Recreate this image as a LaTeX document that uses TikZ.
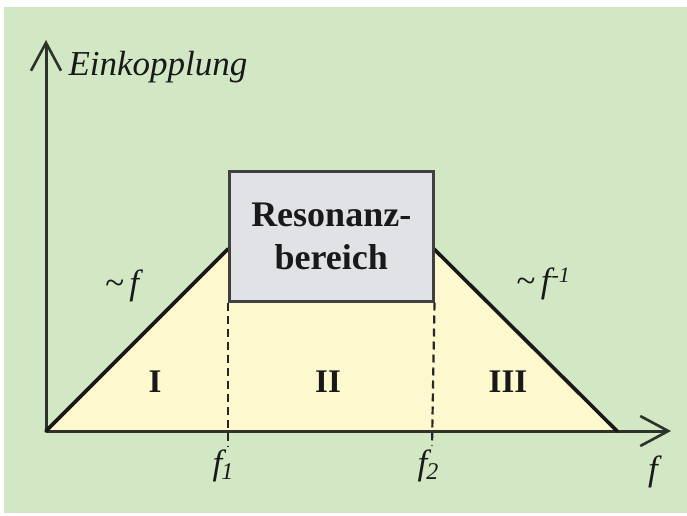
\documentclass[tikz,border=0pt]{standalone}
\usepackage{fontspec}
\setmainfont{Liberation Serif}
\usetikzlibrary{arrows.meta}
\definecolor{bggreen}{RGB}{210,231,196}
\definecolor{trapyellow}{RGB}{254,248,206}
\definecolor{boxgray}{RGB}{225,226,230}
\definecolor{axisgray}{RGB}{45,50,45}
\tikzset{
  axisline/.style={draw=axisgray, line width=3pt, -{Straight Barb[length=28pt,width=30pt,line width=2.6pt]}},
  slopeline/.style={draw=black!90, line width=3.6pt, line cap=round},
  guideline/.style={draw=black!85, line width=2.2pt, dash pattern=on 8pt off 5pt},
  resbox/.style={draw=black!75, line width=2.5pt, fill=boxgray},
  ital/.style={font=\fontsize{35}{40}\selectfont\itshape, text=black!90},
  regionlabel/.style={font=\fontsize{33}{36}\selectfont\bfseries, text=black!90},
}
\begin{document}
\begin{tikzpicture}[x=1pt,y=-1pt]
\useasboundingbox (0,0) rectangle (687,515);
\fill[white] (0,0) rectangle (687,515);
\fill[bggreen] (4,7) rectangle (687,513);
% key points
\coordinate (O) at (46,431);
\coordinate (L) at (228,249);
\coordinate (R) at (432,247);
\coordinate (E) at (617,431);
\coordinate (Ytip) at (46,40);
\coordinate (Xtip) at (671,431);
% trapezoid fill
\fill[trapyellow] (O) -- (L) -- (R) -- (E) -- cycle;
% axes
\draw[axisline] (O) -- (Ytip);
\draw[axisline] (O) -- (Xtip);
% slopes
\draw[slopeline] (O) -- (L);
\draw[slopeline] (R) -- (E);
% resonance box
\node[resbox, minimum width=204pt, minimum height=130pt, anchor=north west,
      inner sep=0pt, align=center,
      font=\fontsize{36}{43}\selectfont\bfseries, text=black!90] (box) at (228,170) {Resonanz-\\bereich};
% guide lines
\coordinate (g1) at (228,446);
\coordinate (g2) at (432,446);
\draw[guideline] (box.south west) -- (g1);
\draw[guideline] (box.south east) -- (g2);
% labels
\node[ital, anchor=west] (ylab) at (65,67) {Einkopplung};
\node[ital] (lf) at (122,286) {\textasciitilde\,f};
\node[ital] (rf) at (543,284) {\textasciitilde\,f\kern1pt\raisebox{10pt}{\fontsize{22}{24}\selectfont -1}};
\node[ital] (f1) at (223,466) {f\kern-1pt\raisebox{-5pt}{\fontsize{24}{26}\selectfont 1}};
\node[ital] (f2) at (428,466) {f\kern-1pt\raisebox{-5pt}{\fontsize{24}{26}\selectfont 2}};
\node[ital] (fx) at (653,472) {f};
\node[regionlabel] (r1) at (155,382) {I};
\node[regionlabel] (r2) at (328,382) {II};
\node[regionlabel] (r3) at (508,382) {III};
\end{tikzpicture}
\end{document}
